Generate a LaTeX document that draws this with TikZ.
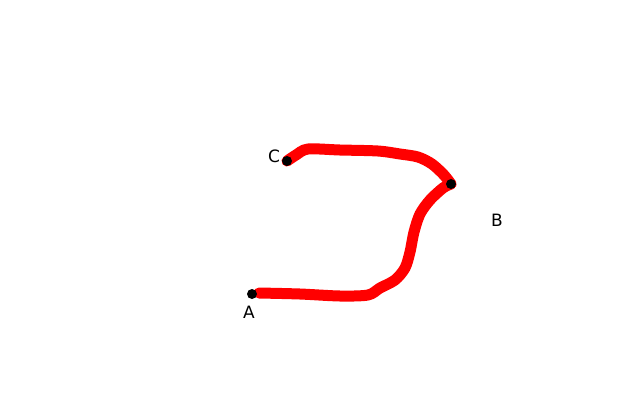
\documentclass[tikz,border=0pt]{standalone}
\usepackage{fontspec}
\setmainfont{DejaVu Sans}
\tikzset{
  pt/.style={circle,fill=black,inner sep=0pt,minimum size=10pt},
  lbl/.style={font=\fontsize{17}{19}\selectfont,inner sep=0pt},
  stroke/.style={red,line width=11pt,line cap=round,line join=round}
}
\begin{document}
\begin{tikzpicture}[x=1pt,y=-1pt]
\useasboundingbox (0,0) rectangle (640,400);
\coordinate (A) at (252,294);
\coordinate (B) at (451,184);
\coordinate (C) at (287,161);
\draw[stroke] plot[smooth,tension=0.5] coordinates {(259,293) (300,294) (340,296) (368,295) (380,288) (395,280) (405,268) (410,252) (414,232) (420,214) (430,200) (443,188) (B)};
\draw[stroke] plot[smooth,tension=0.5] coordinates {(B) (444,175) (432,164) (418,157) (400,154) (378,151) (340,150) (308,149) (296,155) (C)};
\node[pt] (nA) at (A) {};
\node[pt] (nB) at (B) {};
\node[pt] (nC) at (C) {};
\node[lbl] (lA) at (249,312) {A};
\node[lbl] (lB) at (497,220) {B};
\node[lbl] (lC) at (274,156) {C};
\end{tikzpicture}
\end{document}
